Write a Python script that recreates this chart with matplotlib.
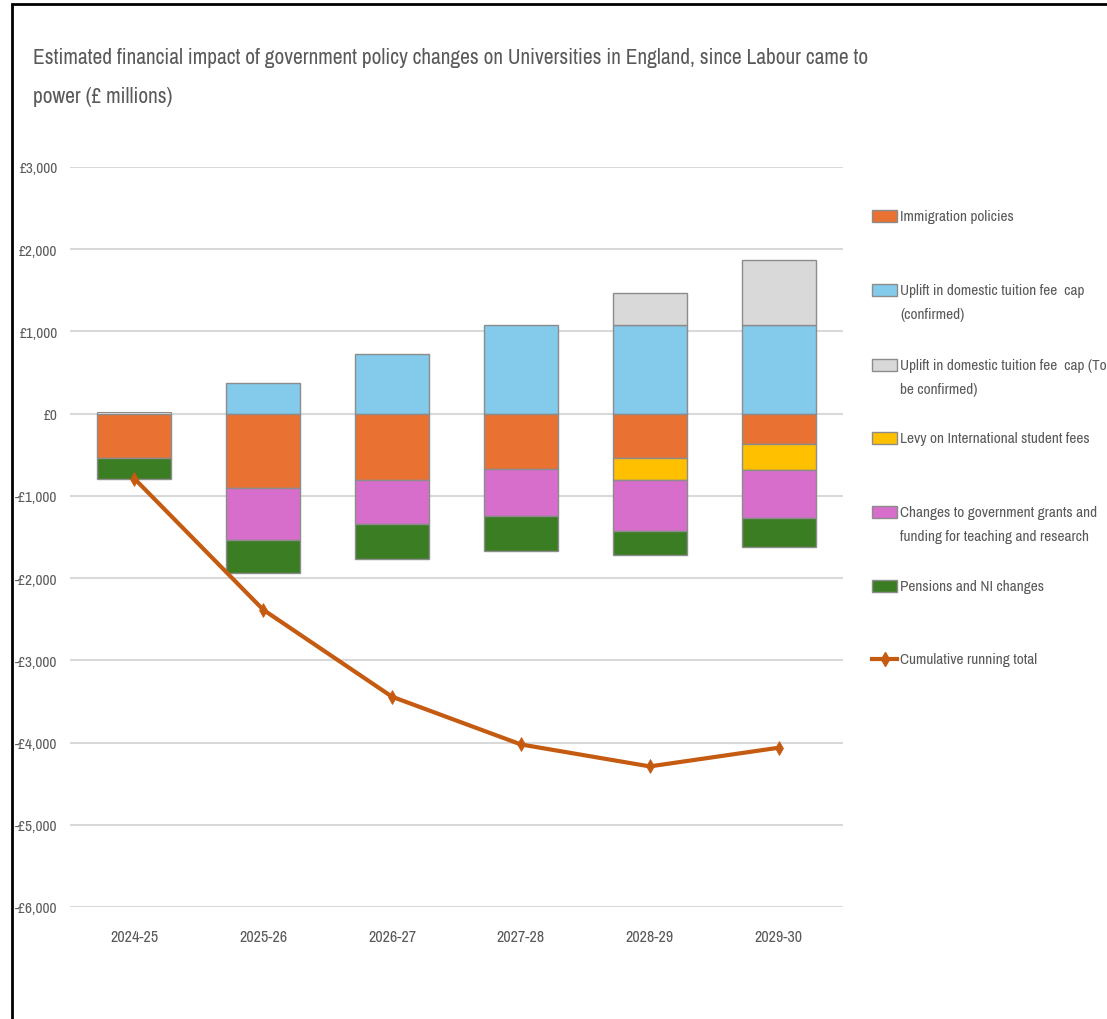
# ==========================================
# UNIVERSITY FUNDING - POLICY IMPACT CHART
# ==========================================

import numpy as np
import matplotlib
matplotlib.use("Agg")
import matplotlib.pyplot as plt
from matplotlib.patches import Rectangle
from matplotlib.lines import Line2D

plt.rcParams["font.family"] = ["Archivo Narrow", "Liberation Sans", "DejaVu Sans"]

# ==========================================
# DATA (£ millions)
# ==========================================
years = ["2024-25", "2025-26", "2026-27", "2027-28", "2028-29", "2029-30"]

immigration = [-535, -904, -803, -669, -539, -373]
fee_confirmed = [0, 373, 722, 1083, 1083, 1083]
fee_tbc = [0, 0, 0, 0, 385, 782]
levy = [0, 0, 0, 0, -272, -308]
grants = [0, -629, -543, -580, -616, -584]
pensions = [-255, -405, -418, -421, -297, -357]
cumulative = [-790, -2385, -3443, -4023, -4290, -4063]

labels = [
    "Immigration policies",
    "Uplift in domestic tuition fee  cap\n(confirmed)",
    "Uplift in domestic tuition fee  cap (To\nbe confirmed)",
    "Levy on International student fees",
    "Changes to government grants and\nfunding for teaching and research",
    "Pensions and NI changes",
    "Cumulative running total",
]
colors = ["#E97132", "#83CAEB", "#D9D9D9", "#FFC000", "#D86ECC", "#3B7D23"]
line_color = "#C55A11"
edge = "#8C8C8C"
text_grey = "#595959"

# ==========================================
# FIGURE
# ==========================================
fig = plt.figure(figsize=(11.07, 10.20), dpi=100)
ax = fig.add_axes([70 / 1107, 1 - 908 / 1020, 773 / 1107, 740 / 1020])

x = np.arange(len(years))
w = 0.575

# positive stack
pos_base = np.zeros(len(years))
for vals, c in [(fee_confirmed, colors[1]), (fee_tbc, colors[2])]:
    v = np.array(vals, dtype=float)
    mask = v != 0
    ax.bar(x[mask], v[mask], w, bottom=pos_base[mask], color=c,
           edgecolor=edge, linewidth=1, zorder=3)
    pos_base += v

# negative stack
neg_base = np.zeros(len(years))
for vals, c in [(immigration, colors[0]), (levy, colors[3]),
                (grants, colors[4]), (pensions, colors[5])]:
    v = np.array(vals, dtype=float)
    mask = v != 0
    ax.bar(x[mask], v[mask], w, bottom=neg_base[mask], color=c,
           edgecolor=edge, linewidth=1, zorder=3)
    neg_base += v

# thin grey cap at zero on the first bar
ax.bar(x[:1], [15], w, bottom=[0], color=colors[2], edgecolor=edge, linewidth=0.8, zorder=3)

ax.plot(x, cumulative, color=line_color, linewidth=3, marker="d",
        markersize=7, markeredgewidth=0.5, zorder=5)

ax.set_xlim(-0.5, len(years) - 0.5)
ax.set_ylim(-6000, 3000)
ticks = np.arange(-6000, 3001, 1000)
ax.set_yticks(ticks)
ax.set_yticklabels([("-£{:,}".format(-t) if t < 0 else "£{:,}".format(t)) for t in ticks])
ax.set_xticks(x)
ax.set_xticklabels(years)
ax.tick_params(axis="both", length=0, colors=text_grey)
ax.tick_params(axis="x", pad=16, labelsize=11.5)
ax.tick_params(axis="y", pad=9, labelsize=11)
ax.grid(axis="y", color="#D9D9D9", linewidth=1.5, zorder=0)
for s in ax.spines.values():
    s.set_visible(False)

# ==========================================
# TITLE
# ==========================================
fig.text(33 / 1107, 1 - 77.5 / 1020,
         "Estimated financial impact of government policy changes on Universities in England, since Labour came to\npower (£ millions)",
         fontsize=15.4, color=text_grey, va="center", ha="left", linespacing=2.15)

# ==========================================
# LEGEND (manual placement)
# ==========================================
leg_y = [217, 291, 366, 439, 513, 587, 660]
for i, lab in enumerate(labels):
    yc = 1 - leg_y[i] / 1020
    if i < 6:
        fig.patches.append(Rectangle((872 / 1107, yc - 6 / 1020), 25 / 1107, 12 / 1020,
                                     transform=fig.transFigure, facecolor=colors[i],
                                     edgecolor=edge, linewidth=1))
    else:
        fig.lines.append(Line2D([872 / 1107, 897 / 1107], [yc, yc], transform=fig.transFigure,
                                color=line_color, linewidth=3))
        fig.lines.append(Line2D([884.5 / 1107], [yc], transform=fig.transFigure,
                                color=line_color, marker="d", markersize=7, linestyle="none"))
    fig.text(900 / 1107, yc - (12 / 1020 if "\n" in lab else 0), lab,
             fontsize=11, color=text_grey, va="center", ha="left", linespacing=1.85)

# outer frame
fig.patches.append(Rectangle((12 / 1107, -0.05), 1.1, 1 - 5 / 1020 + 0.05,
                             transform=fig.transFigure, fill=False,
                             edgecolor="black", linewidth=2))

plt.savefig("out.png", dpi=100)
